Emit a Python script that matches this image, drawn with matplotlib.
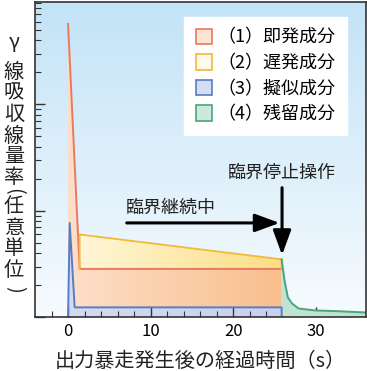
import numpy as np
import matplotlib
matplotlib.use('Agg')
import matplotlib.pyplot as plt
from matplotlib.colors import LinearSegmentedColormap
from matplotlib.patches import Patch
from matplotlib.ticker import LogLocator, NullFormatter

plt.rcParams['font.family'] = ['Noto Sans CJK JP', 'DejaVu Sans']

# data (log scale, arbitrary units)
prompt_t = [0.0, 0.0, 1.4, 25.85, 25.85]
prompt_v = [1.0, 570.0, 2.85, 2.85, 1.0]
delayed_t = [1.4, 25.85]
delayed_lo = [2.85, 2.85]
delayed_v = [6.0, 3.5]
pseudo_t = [0.0, 0.2, 0.8, 25.85, 25.85]
pseudo_v = [1.0, 7.7, 1.24, 1.24, 1.0]
residual_t = [25.85, 26.2, 26.6, 27.1, 27.9, 29.9, 32.8, 36.0]
residual_v = [3.5, 2.22, 1.54, 1.35, 1.21, 1.16, 1.14, 1.11]

labels = ['（1）即発成分', '（2）遅発成分', '（3）擬似成分', '（4）残留成分']
line_colors = ['#e8795e', '#f2b93b', '#5a7cc4', '#4aa57f']
fill_left = ['#fde4d2', '#fffbea', '#d4ddf2', '#cde9db']
fill_right = ['#f8b274', '#fbd561', '#c2cdeb', '#bfe2cf']

xlabel = '出力暴走発生後の経過時間（s）'
ylabel_chars = ['γ', '線', '吸', '収', '線', '量', '率', '(', '任', '意', '単', '位', ')']
ylabel_y = [43, 72, 93, 114, 136, 157, 178, 191, 207, 228, 249, 271, 289]

W, H = 367, 371
fig = plt.figure(figsize=(W / 100, H / 100), dpi=100)
ax = fig.add_axes([35 / W, 1 - 317.3 / H, 330.5 / W, 315 / H])
ax.set_yscale('log')
ax.set_xlim(-4, 36)
ax.set_ylim(1, 910)
ax.set_facecolor('none')

# background gradient
bg = LinearSegmentedColormap.from_list('bg', ['#f7fbfe', '#c3e3f7'])
ax.imshow(np.linspace(0, 1, 256).reshape(-1, 1), cmap=bg, aspect='auto',
          extent=(0, 1, 0, 1), origin='lower', transform=ax.transAxes, zorder=0)


def grad_fill(t, lo, hi, i, z):
    poly = ax.fill_between(t, lo, hi, facecolor='none', edgecolor='none', zorder=z)
    cm = LinearSegmentedColormap.from_list('g%d' % i, [fill_left[i], fill_right[i]])
    im = ax.imshow(np.linspace(0, 1, 256).reshape(1, -1), cmap=cm, aspect='auto',
                   extent=(0, 1, 0, 1), origin='lower', transform=ax.transAxes, zorder=z)
    im.set_clip_path(poly.get_paths()[0], ax.transData)


grad_fill(prompt_t, 1.0, prompt_v, 0, 1)
grad_fill(delayed_t, delayed_lo, delayed_v, 1, 1.2)
grad_fill(pseudo_t, 1.0, pseudo_v, 2, 1.4)
grad_fill(residual_t, 1.0, residual_v, 3, 1.6)

ax.plot(prompt_t[1:4], prompt_v[1:4], color=line_colors[0], lw=1.4, zorder=3)
ax.plot([delayed_t[0]] + delayed_t + [delayed_t[-1]],
        [delayed_lo[0]] + delayed_v + [delayed_lo[-1]], color=line_colors[1], lw=1.3, zorder=3)
ax.plot(pseudo_t, pseudo_v, color=line_colors[2], lw=1.4, zorder=3.2)
ax.plot(residual_t, residual_v, color=line_colors[3], lw=1.4, zorder=3)

# annotations
arrow = dict(arrowstyle='-|>,head_length=1.5,head_width=0.55', color='black', lw=2.2,
             shrinkA=0, shrinkB=0)
ax.annotate('', xy=(25.6, 7.7), xytext=(7.1, 7.7), arrowprops=arrow, zorder=5)
ax.annotate('', xy=(25.9, 3.85), xytext=(25.9, 16.5), arrowprops=arrow, zorder=5)
ax.text(7.0, 10.6, '臨界継続中', fontsize=13, va='center', ha='left', color='#222222', zorder=5)
ax.text(19.3, 22.6, '臨界停止操作', fontsize=13, va='center', ha='left', color='#222222', zorder=5)

# axes styling
ax.set_xticks([0, 10, 20, 30])
ax.set_xticks(np.arange(-2, 36, 2), minor=True)
ax.yaxis.set_major_locator(LogLocator(base=10, numticks=10))
ax.yaxis.set_minor_locator(LogLocator(base=10, subs=np.arange(2, 10), numticks=20))
ax.yaxis.set_minor_formatter(NullFormatter())
ax.tick_params(axis='both', which='major', direction='in', length=7, width=1, color='#333333',
               labelsize=12, pad=4)
ax.tick_params(axis='both', which='minor', direction='in', length=4, width=0.8, color='#333333')
ax.tick_params(axis='y', which='both', labelleft=False)
for s in ax.spines.values():
    s.set_color('#333333')
    s.set_linewidth(1.2)
    s.set_zorder(6)

ax.set_xlabel(xlabel, fontsize=14.5, color='#222222', labelpad=8)

# vertical y label, one character per line (brackets turned for vertical writing)
for ch, yp in zip(ylabel_chars, ylabel_y):
    if ch == '(' or ch == ')':
        fig.text(14 / W, 1 - yp / H, ch, fontsize=14.5, ha='center', va='center',
                 rotation=270, color='#222222')
    else:
        fig.text(14 / W, 1 - yp / H, ch, fontsize=14.5, ha='center', va='center',
                 color='#222222')

handles = [Patch(facecolor=fill_left[i], edgecolor=line_colors[i], lw=1.2) for i in range(4)]
leg = ax.legend(handles, labels, loc='upper right', bbox_to_anchor=(347 / W, 1 - 17 / H),
                bbox_transform=fig.transFigure, fontsize=13, frameon=True, fancybox=False,
                handlelength=0.9, handleheight=0.95, handletextpad=0.3, labelspacing=0.42,
                borderpad=0.65, borderaxespad=0)
leg.get_frame().set_facecolor('white')
leg.get_frame().set_edgecolor('white')
leg.get_frame().set_alpha(1)
leg.set_zorder(7)

fig.savefig('out.png', dpi=100)
